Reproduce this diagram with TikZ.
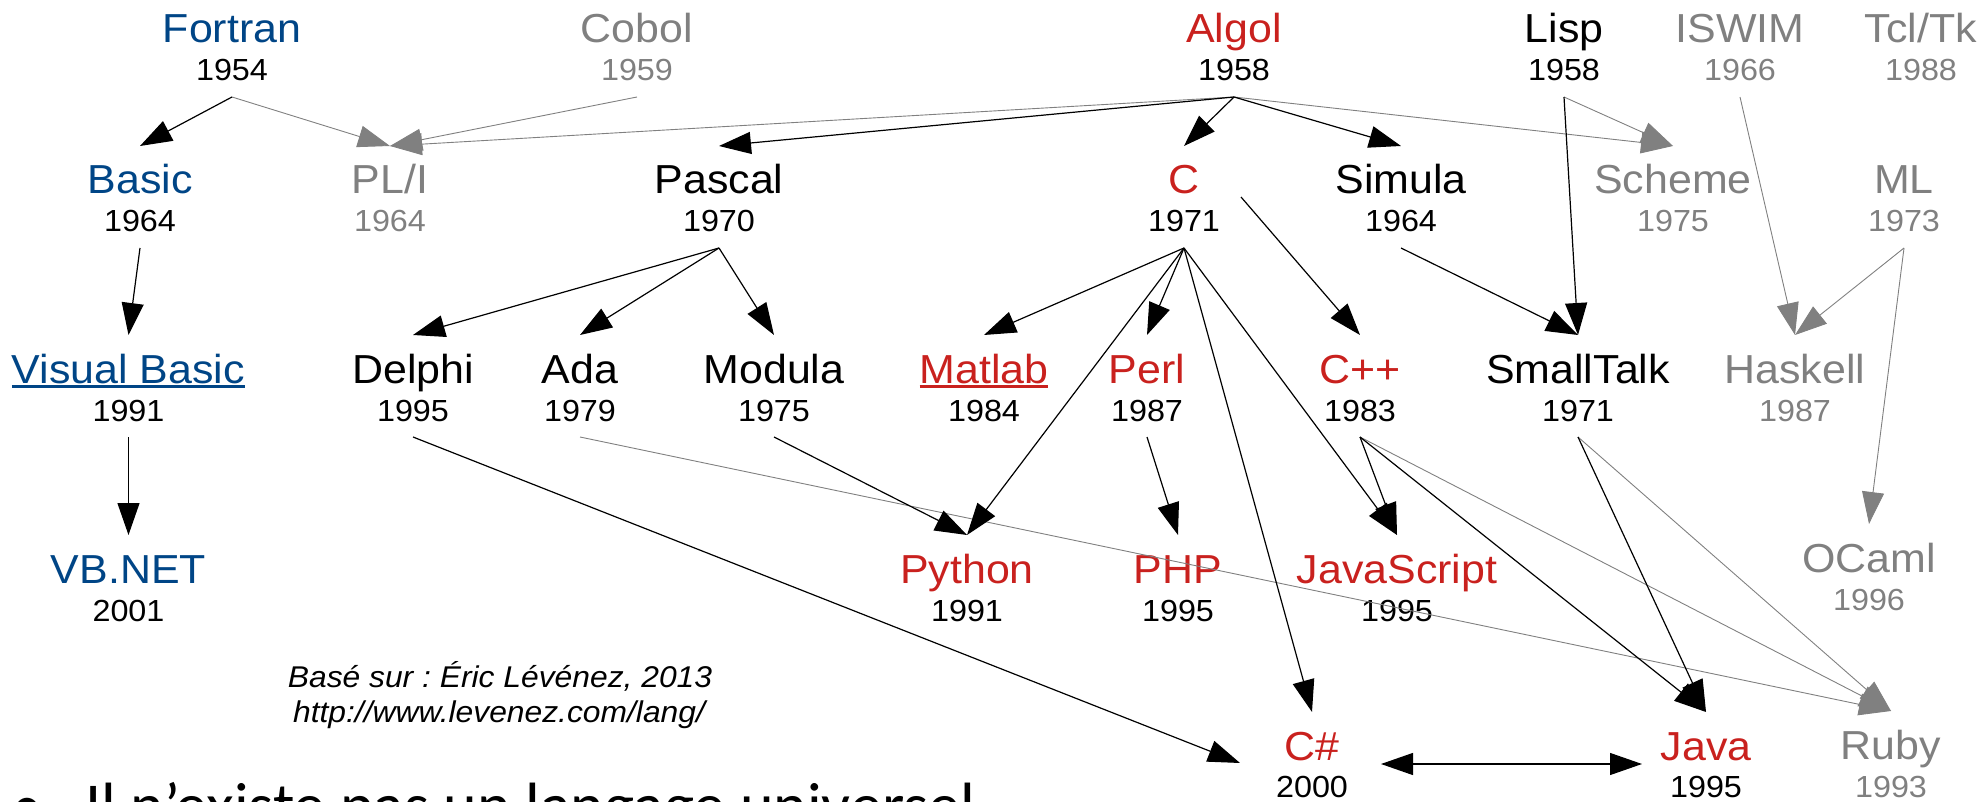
\documentclass[tikz,border=0pt]{standalone}
\usepackage{fontspec}
\setmainfont{Liberation Sans}[FakeStretch=1.06]
\newfontfamily\slidefont{Carlito}
\usetikzlibrary{arrows.meta}
\frenchspacing
\definecolor{lblue}{RGB}{0,69,134}
\definecolor{lred}{RGB}{201,33,30}
\definecolor{lgray}{RGB}{128,128,128}
\tikzset{
  lname/.style={anchor=base, inner xsep=0pt, inner ysep=19pt, outer sep=0pt,
    text height=29pt, text depth=0pt, font=\fontsize{40.5}{48}\selectfont},
  lyear/.style={anchor=base, inner xsep=0pt, inner ysep=16pt, outer sep=0pt,
    text height=22pt, text depth=0pt, font=\fontsize{30.5}{36}\selectfont},
  blk/.style={draw=black, line width=1.2pt, -{Triangle[length=32pt,width=22pt]}},
  blkboth/.style={draw=black, line width=1.2pt, {Triangle[length=32pt,width=22pt]}-{Triangle[length=32pt,width=22pt]}},
  gry/.style={draw=lgray, line width=0.9pt, -{Triangle[length=32pt,width=22pt]}},
  uline/.style={line width=2.5pt},
  credit/.style={anchor=base, inner sep=0pt, font=\itshape\fontsize{30}{36}\selectfont},
  slide/.style={inner sep=0pt, font=\slidefont\fontsize{64}{72}\selectfont}
}
% id, x, name baseline, year baseline, name, year, name colour, year colour
\newcommand\lang[8]{%
  \node[lname, text=#7] (#1) at (#2,#3) {#5};
  \node[lyear, text=#8] (#1y) at (#2,#4) {#6};
}
\begin{document}
\begin{tikzpicture}[x=1pt, y=-1pt]
\useasboundingbox (0,0) rectangle (1984,802);
\clip (0,0) rectangle (1984,802);

% row 1
\lang{fortran}{232}{43}{81}{Fortran}{1954}{lblue}{black}
\lang{cobol}{637}{43}{81}{Cobol}{1959}{lgray}{lgray}
\lang{algol}{1234}{43}{81}{Algol}{1958}{lred}{black}
\lang{lisp}{1564}{43}{81}{Lisp}{1958}{black}{black}
\lang{iswim}{1740}{43}{81}{ISWIM}{1966}{lgray}{lgray}
\lang{tcl}{1921}{43}{81}{Tcl/Tk}{1988}{lgray}{lgray}
% row 2
\lang{basic}{140}{194}{232}{Basic}{1964}{lblue}{black}
\lang{pli}{390}{194}{232}{PL/I}{1964}{lgray}{lgray}
\lang{pascal}{719}{194}{232}{Pascal}{1970}{black}{black}
\lang{c}{1184}{194}{232}{C}{1971}{lred}{black}
\lang{simula}{1401}{194}{232}{Simula}{1964}{black}{black}
\lang{scheme}{1673}{194}{232}{Scheme}{1975}{lgray}{lgray}
\lang{ml}{1904}{194}{232}{ML}{1973}{lgray}{lgray}
% row 3
\lang{vb}{128.5}{383}{421}{Visual Basic}{1991}{lblue}{black}
\lang{delphi}{413}{383}{421}{Delphi}{1995}{black}{black}
\lang{ada}{580}{383}{421}{Ada}{1979}{black}{black}
\lang{modula}{774}{383}{421}{Modula}{1975}{black}{black}
\lang{matlab}{984}{383}{421}{Matlab}{1984}{lred}{black}
\lang{perl}{1147}{383}{421}{Perl}{1987}{lred}{black}
\lang{cpp}{1360}{383}{421}{C++}{1983}{lred}{black}
\lang{smalltalk}{1578}{383}{421}{SmallTalk}{1971}{black}{black}
\lang{haskell}{1795}{383}{421}{Haskell}{1987}{lgray}{lgray}
% row 4
\lang{vbnet}{128.5}{583}{621}{VB.NET}{2001}{lblue}{black}
\lang{python}{967}{583}{621}{Python}{1991}{lred}{black}
\lang{php}{1178}{583}{621}{PHP}{1995}{lred}{black}
\lang{javascript}{1397}{583}{621}{JavaScript}{1995}{lred}{black}
\lang{ocaml}{1869}{572}{610}{OCaml}{1996}{lgray}{lgray}
% row 5
\lang{csharp}{1312}{760}{797}{C\#}{2000}{lred}{black}
\lang{java}{1706}{760}{797}{Java}{1995}{lred}{black}
\lang{ruby}{1891}{759}{797}{Ruby}{1993}{lgray}{lgray}

% underlines
\draw[uline, lblue] ([yshift=-3.5pt]vb.base west) -- ([yshift=-3.5pt]vb.base east);
\draw[uline, lred] ([yshift=-3.5pt]matlab.base west) -- ([yshift=-3.5pt]matlab.base east);

% credit and slide text
\node[credit] (cred1) at (500,687) {Basé sur : Éric Lévénez, 2013};
\node[credit] (cred2) at (499,722) {http://www.levenez.com/lang/};
\node[slide, anchor=base] (bullet) at (27,827) {•};
\node[slide, anchor=base west] (claim) at (85,827) {Il n’existe pas un langage universel};

% free-end points
\coordinate (cside) at (1241,197);
\coordinate (csw) at (1240,763);
\coordinate (cse) at (1381,764);
\coordinate (javaw) at (1642,764);

% grey connectors
\draw[gry] (fortrany.south) -- (pli.north);
\draw[gry] (coboly.south) -- (pli.north);
\draw[gry] (algoly.south) -- (pli.north);
\draw[gry] (algoly.south) -- (scheme.north);
\draw[gry] (lispy.south) -- (scheme.north);
\draw[gry] (iswimy.south) -- (haskell.north);
\draw[gry] (mly.south) -- (haskell.north);
\draw[gry] (mly.south) -- (ocaml.north);
\draw[gry] (aday.south) -- (ruby.north);
\draw[gry] (cppy.south) -- (ruby.north);
\draw[gry] (smalltalky.south) -- (ruby.north);

% black connectors
\draw[blk] (fortrany.south) -- (basic.north);
\draw[blk] (algoly.south) -- (pascal.north);
\draw[blk] (algoly.south) -- (c.north);
\draw[blk] (algoly.south) -- (simula.north);
\draw[blk] (lispy.south) -- (smalltalk.north);
\draw[blk] (simulay.south) -- (smalltalk.north);
\draw[blk] (basicy.south) -- (vb.north);
\draw[blk] (vby.south) -- (vbnet.north);
\draw[blk] (pascaly.south) -- (delphi.north);
\draw[blk] (pascaly.south) -- (ada.north);
\draw[blk] (pascaly.south) -- (modula.north);
\draw[blk] (cy.south) -- (matlab.north);
\draw[blk] (cy.south) -- (perl.north);
\draw[blk] (cy.south) -- (python.north);
\draw[blk] (cy.south) -- (csharp.north);
\draw[blk] (cy.south) -- (javascript.north);
\draw[blk] (cside) -- (cpp.north);
\draw[blk] (perly.south) -- (php.north);
\draw[blk] (modulay.south) -- (python.north);
\draw[blk] (delphiy.south) -- (csw);
\draw[blk] (cppy.south) -- (javascript.north);
\draw[blk] (cppy.south) -- (java.north);
\draw[blk] (smalltalky.south) -- (java.north);
\draw[blkboth] (cse) -- (javaw);
\end{tikzpicture}
\end{document}
